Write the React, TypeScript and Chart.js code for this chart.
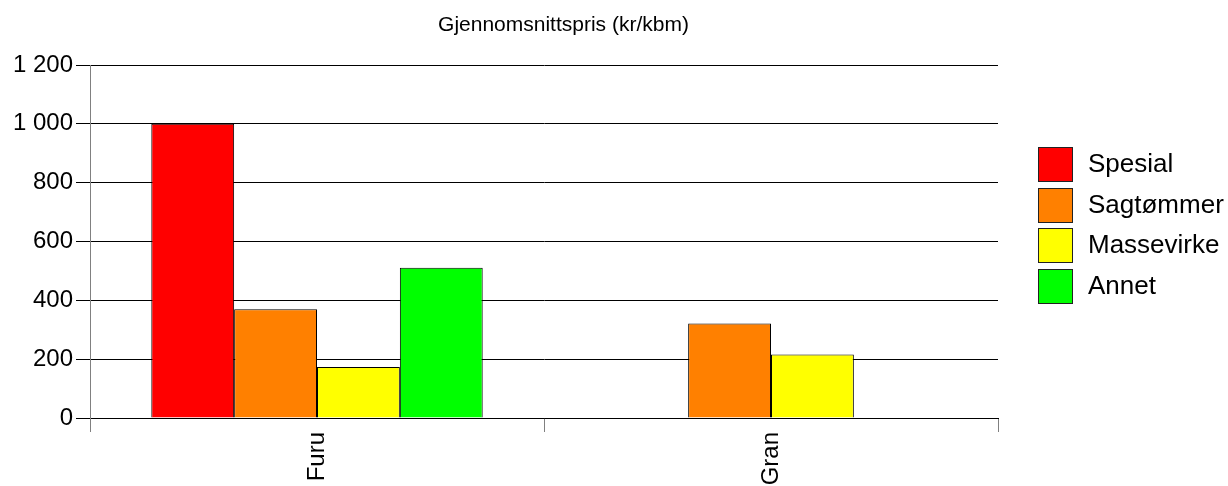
import React, { useEffect, useRef } from "react";
import { Chart, registerables } from "chart.js";

Chart.register(...registerables);

const categories = ["Furu", "Gran"];
const seriesNames = ["Spesial", "Sagtømmer", "Massevirke", "Annet"];
const spesial = [1000, 0];
const sagtommer = [370, 321];
const massevirke = [173, 216];
const annet = [511, 0];
const seriesColors = ["#FF0000", "#FF8000", "#FFFF00", "#00FF00"];
const yTicks = [0, 200, 400, 600, 800, 1000, 1200];
const titleText = "Gjennomsnittspris (kr/kbm)";

const FONT = "'Liberation Sans', Arial, sans-serif";

const legendPlugin = {
  id: "customLegend",
  afterDraw(chart: any) {
    const ctx = chart.ctx;
    const ds = chart.data.datasets;
    const tops = [147, 188, 228, 269];
    ctx.save();
    // title
    ctx.fillStyle = "#000000";
    ctx.font = `21px ${FONT}`;
    ctx.textAlign = "center";
    ctx.textBaseline = "alphabetic";
    ctx.fillText(titleText, 563.5, 31);
    ds.forEach((d: any, i: number) => {
      const x = 1038;
      const y = tops[i];
      ctx.fillStyle = d.backgroundColor;
      ctx.fillRect(x, y, 35, 35);
      ctx.strokeStyle = "#222222";
      ctx.lineWidth = 1;
      ctx.strokeRect(x + 0.5, y + 0.5, 34, 34);
      ctx.fillStyle = "#000000";
      ctx.font = `26px ${FONT}`;
      ctx.textBaseline = "middle";
      ctx.textAlign = "left";
      ctx.fillText(d.label, 1088, y + 18);
    });
    ctx.restore();
  },
};

export default function App() {
  const ref = useRef<HTMLCanvasElement>(null);
  useEffect(() => {
    document.body.style.margin = "0";
    const values = [spesial, sagtommer, massevirke, annet];
    const chart = new Chart(ref.current!, {
      type: "bar",
      data: {
        labels: categories,
        datasets: seriesNames.map((name, i) => ({
          label: name,
          data: values[i],
          backgroundColor: seriesColors[i],
          borderColor: "#000000",
          borderWidth: 1,
          categoryPercentage: 0.73,
          barPercentage: 1,
        })),
      },
      options: {
        animation: false,
        responsive: false,
        maintainAspectRatio: false,
        layout: { padding: { left: 0, right: 230, top: 65, bottom: 0 } },
        plugins: {
          legend: { display: false },
          tooltip: { enabled: false },
          title: { display: false },
        },
        scales: {
          x: {
            afterFit: (s: any) => {
              s.height = 68;
            },
            grid: {
              offset: true,
              drawOnChartArea: false,
              drawTicks: true,
              tickLength: 14,
              color: "#808080",
            },
            border: { display: true, color: "#000000" },
            ticks: {
              minRotation: 90,
              maxRotation: 90,
              color: "#000000",
              padding: 0,
              font: { family: FONT, size: 24 },
            },
          },
          y: {
            min: 0,
            max: 1200,
            afterFit: (s: any) => {
              s.width = 90;
            },
            afterBuildTicks: (s: any) => {
              s.ticks = yTicks.map((v) => ({ value: v }));
            },
            grid: {
              color: "#000000",
              tickColor: "#000000",
              drawTicks: true,
              tickLength: 14,
            },
            border: { display: true, color: "#808080" },
            ticks: {
              color: "#000000",
              padding: 3,
              font: { family: FONT, size: 24 },
              callback: (v: any) =>
                String(v).replace(/\B(?=(\d{3})+(?!\d))/g, " "),
            },
          },
        },
      },
      plugins: [legendPlugin],
    });
    return () => chart.destroy();
  }, []);
  return (
    <div style={{ position: "fixed", left: 0, top: 0, width: 1228, height: 486 }}>
      <canvas ref={ref} width={1228} height={486} style={{ width: 1228, height: 486 }} />
    </div>
  );
}
